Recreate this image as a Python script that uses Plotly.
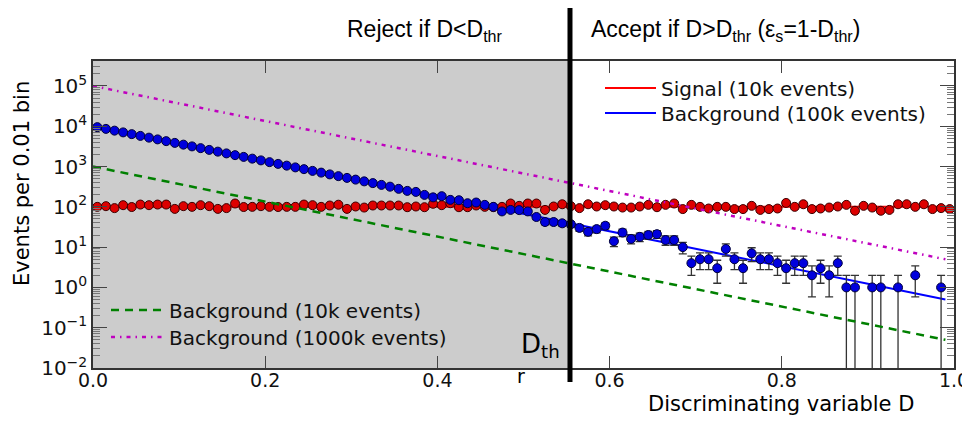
import numpy as np
import plotly.graph_objects as go

# ---------------- data ----------------
bin_centers = np.round(np.arange(100) * 0.01 + 0.005, 3)

signal_counts = [
    100, 104, 93, 110, 99, 114, 110, 114, 114, 89,
    104, 100, 110, 104, 89, 93, 121, 99, 100, 104,
    100, 99, 100, 100, 114, 110, 100, 108, 113, 89,
    102, 96, 108, 108, 108, 108, 98, 102, 98, 119,
    110, 123, 98, 98, 108, 100, 98, 100, 121, 106,
    121, 121, 84, 102, 116, 104, 93, 116, 102, 110,
    102, 96, 96, 102, 112, 98, 112, 121, 88, 112,
    100, 91, 100, 100, 88, 88, 106, 84, 88, 91,
    125, 100, 116, 88, 91, 96, 102, 112, 80, 106,
    96, 80, 84, 116, 116, 100, 116, 88, 93, 88,
]

background_counts = [
    9512, 8607, 7788, 7047, 6376, 5769, 5220, 4724, 4274, 3867,
    3499, 3166, 2865, 2592, 2346, 2122, 1920, 1738, 1572, 1423,
    1287, 1165, 1054, 954, 863, 781, 707, 639, 578, 523,
    474, 429, 388, 351, 317, 280, 249, 235, 198, 172,
    184, 149, 146, 123, 128, 112, 100, 77, 84, 83,
    77, 56, 42, 42, 39, 37, 30, 24, 28, 34,
    14, 23, 16, 18, 20, 21, 15, 15, 10, 4,
    5, 5, 3, 9, 5, 3, 7, 5, 5, 4,
    3, 4, 4, 2, 3, 2, 4, 1, 1, 0,
    1, 1, 0, 1, 0, 2, 0, 0, 1, 0,
]

signal_line_x = [0.0, 0.995]
signal_line_y = [100, 100]
bkg100k_line_x = [0.0, 0.99]
bkg100k_line_y = [10000, 0.5]
bkg10k_line_x = [0.0, 0.99]
bkg10k_line_y = [1000, 0.05]
bkg1000k_line_x = [0.0, 0.99]
bkg1000k_line_y = [100000, 5.0]

d_thr = 0.554

x_tick_vals = [0.0, 0.2, 0.4, 0.6, 0.8, 1.0]
x_tick_text = ["0.0", "0.2", "0.4", "0.6", "0.8", "1.0"]
y_tick_vals = [1e-2, 1e-1, 1e0, 1e1, 1e2, 1e3, 1e4, 1e5]
y_tick_text = ["10<sup>−2</sup>", "10<sup>−1</sup>", "10<sup>0</sup>", "10<sup>1</sup>",
               "10<sup>2</sup>", "10<sup>3</sup>", "10<sup>4</sup>", "10<sup>5</sup>"]

# ---------------- figure ----------------
sig = np.array(signal_counts, dtype=float)
bkg = np.array(background_counts, dtype=float)
bkg_plot = [v if v > 0 else None for v in bkg]
sig_err = np.sqrt(sig)
bkg_err = np.sqrt(bkg)

fig = go.Figure()

fig.add_trace(go.Scatter(
    x=signal_line_x, y=signal_line_y, mode="lines",
    line=dict(color="#ff0000", width=2),
    name="Signal (10k events)", legend="legend"))
fig.add_trace(go.Scatter(
    x=bkg100k_line_x, y=bkg100k_line_y, mode="lines",
    line=dict(color="#0000ff", width=2),
    name="Background (100k events)", legend="legend2"))

fig.add_trace(go.Scatter(
    x=bin_centers, y=sig, mode="markers",
    marker=dict(size=9, color="#dd0000", line=dict(color="#3a0000", width=1)),
    error_y=dict(type="data", array=sig_err, color="#333333", thickness=1.3, width=4),
    showlegend=False))
fig.add_trace(go.Scatter(
    x=bin_centers, y=bkg_plot, mode="markers",
    marker=dict(size=9, color="#0000dd", line=dict(color="#00003a", width=1)),
    error_y=dict(type="data", array=bkg_err, color="#333333", thickness=1.3, width=4),
    showlegend=False))

fig.add_trace(go.Scatter(
    x=bkg10k_line_x, y=bkg10k_line_y, mode="lines",
    line=dict(color="#008000", width=2.5, dash="8px,6px"),
    name="Background (10k events)", legend="legend3"))
fig.add_trace(go.Scatter(
    x=bkg1000k_line_x, y=bkg1000k_line_y, mode="lines",
    line=dict(color="#bf00bf", width=2.5, dash="4px,5px,1.5px,5px"),
    name="Background (1000k events)", legend="legend4"))

# shaded reject region and threshold line
fig.add_shape(type="rect", xref="x", yref="paper", x0=0, x1=d_thr, y0=0, y1=1,
              fillcolor="#cccccc", line=dict(width=0), layer="below")
fig.add_shape(type="line", xref="x", yref="paper", x0=d_thr, x1=d_thr, y0=-0.046, y1=1.182,
              line=dict(color="black", width=5), layer="above")

# The page body has an 8px margin, so the figure is drawn at (8, 8) in the window.
OFF = 8
W, H = 970 - OFF, 421 - OFF
PLOT_L, PLOT_R, PLOT_T, PLOT_B = 93, 954, 61, 368   # window pixels of the plot frame
L, R, T, B = PLOT_L - OFF, W - (PLOT_R - OFF), PLOT_T - OFF, H - (PLOT_B - OFF)
pw, ph = PLOT_R - PLOT_L, PLOT_B - PLOT_T

def px(xp):
    return (xp - PLOT_L) / pw

def py(yp):
    return (PLOT_B - yp) / ph

title_font = dict(family="Liberation Sans", size=23, color="black")
fig.add_annotation(text="Reject if D&lt;D<sub>thr</sub>", xref="paper", yref="paper",
                   x=px(345), y=py(31), xanchor="left", yanchor="middle",
                   showarrow=False, font=title_font)
fig.add_annotation(text="Accept if D&gt;D<sub>thr</sub> (ε<sub>s</sub>=1-D<sub>thr</sub>)",
                   xref="paper", yref="paper",
                   x=px(589), y=py(31), xanchor="left", yanchor="middle",
                   showarrow=False, font=title_font)
fig.add_annotation(text="D<sub>th</sub>", xref="paper", yref="paper",
                   x=px(540), y=py(345), xanchor="center", yanchor="middle",
                   showarrow=False, font=dict(family="DejaVu Sans", size=26, color="black"))
fig.add_annotation(text="r", xref="paper", yref="paper",
                   x=px(521), y=py(376), xanchor="center", yanchor="middle",
                   showarrow=False, font=dict(family="DejaVu Sans", size=19, color="black"))
fig.add_annotation(text="Discriminating variable D", xref="paper", yref="paper",
                   x=px(781), y=py(404), xanchor="center", yanchor="middle",
                   showarrow=False, font=dict(family="DejaVu Sans", size=21, color="black"))
fig.add_annotation(text="Events per 0.01 bin", xref="paper", yref="paper",
                   x=px(22), y=py(184), xanchor="center", yanchor="middle", textangle=-90,
                   showarrow=False, font=dict(family="DejaVu Sans", size=21, color="black"))

leg_common = dict(xanchor="left", yanchor="middle", bgcolor="rgba(0,0,0,0)",
                  font=dict(size=20), tracegroupgap=0)

fig.update_layout(
    width=W, height=H,
    margin=dict(l=L, r=R, t=T, b=B),
    plot_bgcolor="white", paper_bgcolor="white",
    font=dict(family="DejaVu Sans", size=19, color="#111111"),
    legend=dict(x=px(600), y=py(88), itemwidth=51, **leg_common),
    legend2=dict(x=px(600), y=py(113), itemwidth=51, **leg_common),
    legend3=dict(x=px(106), y=py(310), itemwidth=53, **leg_common),
    legend4=dict(x=px(106), y=py(337), itemwidth=53, **leg_common),
)
fig.update_xaxes(range=[0, 1], tickvals=x_tick_vals, ticktext=x_tick_text,
                 ticks="inside", ticklen=12, tickwidth=1, tickcolor="#444444",
                 showline=True, linecolor="#333333", linewidth=1.5, mirror="ticks",
                 showgrid=False, zeroline=False, tickfont=dict(size=19),
                 ticklabelstandoff=-6, automargin=False)
fig.update_yaxes(type="log", range=[-2, 5.62], tickvals=y_tick_vals, ticktext=y_tick_text,
                 ticks="inside", ticklen=14, tickwidth=1, tickcolor="#444444",
                 minor=dict(ticks="inside", ticklen=7, tickcolor="#777777", dtick="D1"),
                 showline=True, linecolor="#333333", linewidth=1.5, mirror="ticks",
                 showgrid=False, zeroline=False, tickfont=dict(size=20), automargin=False)

fig.write_html("out.html")
